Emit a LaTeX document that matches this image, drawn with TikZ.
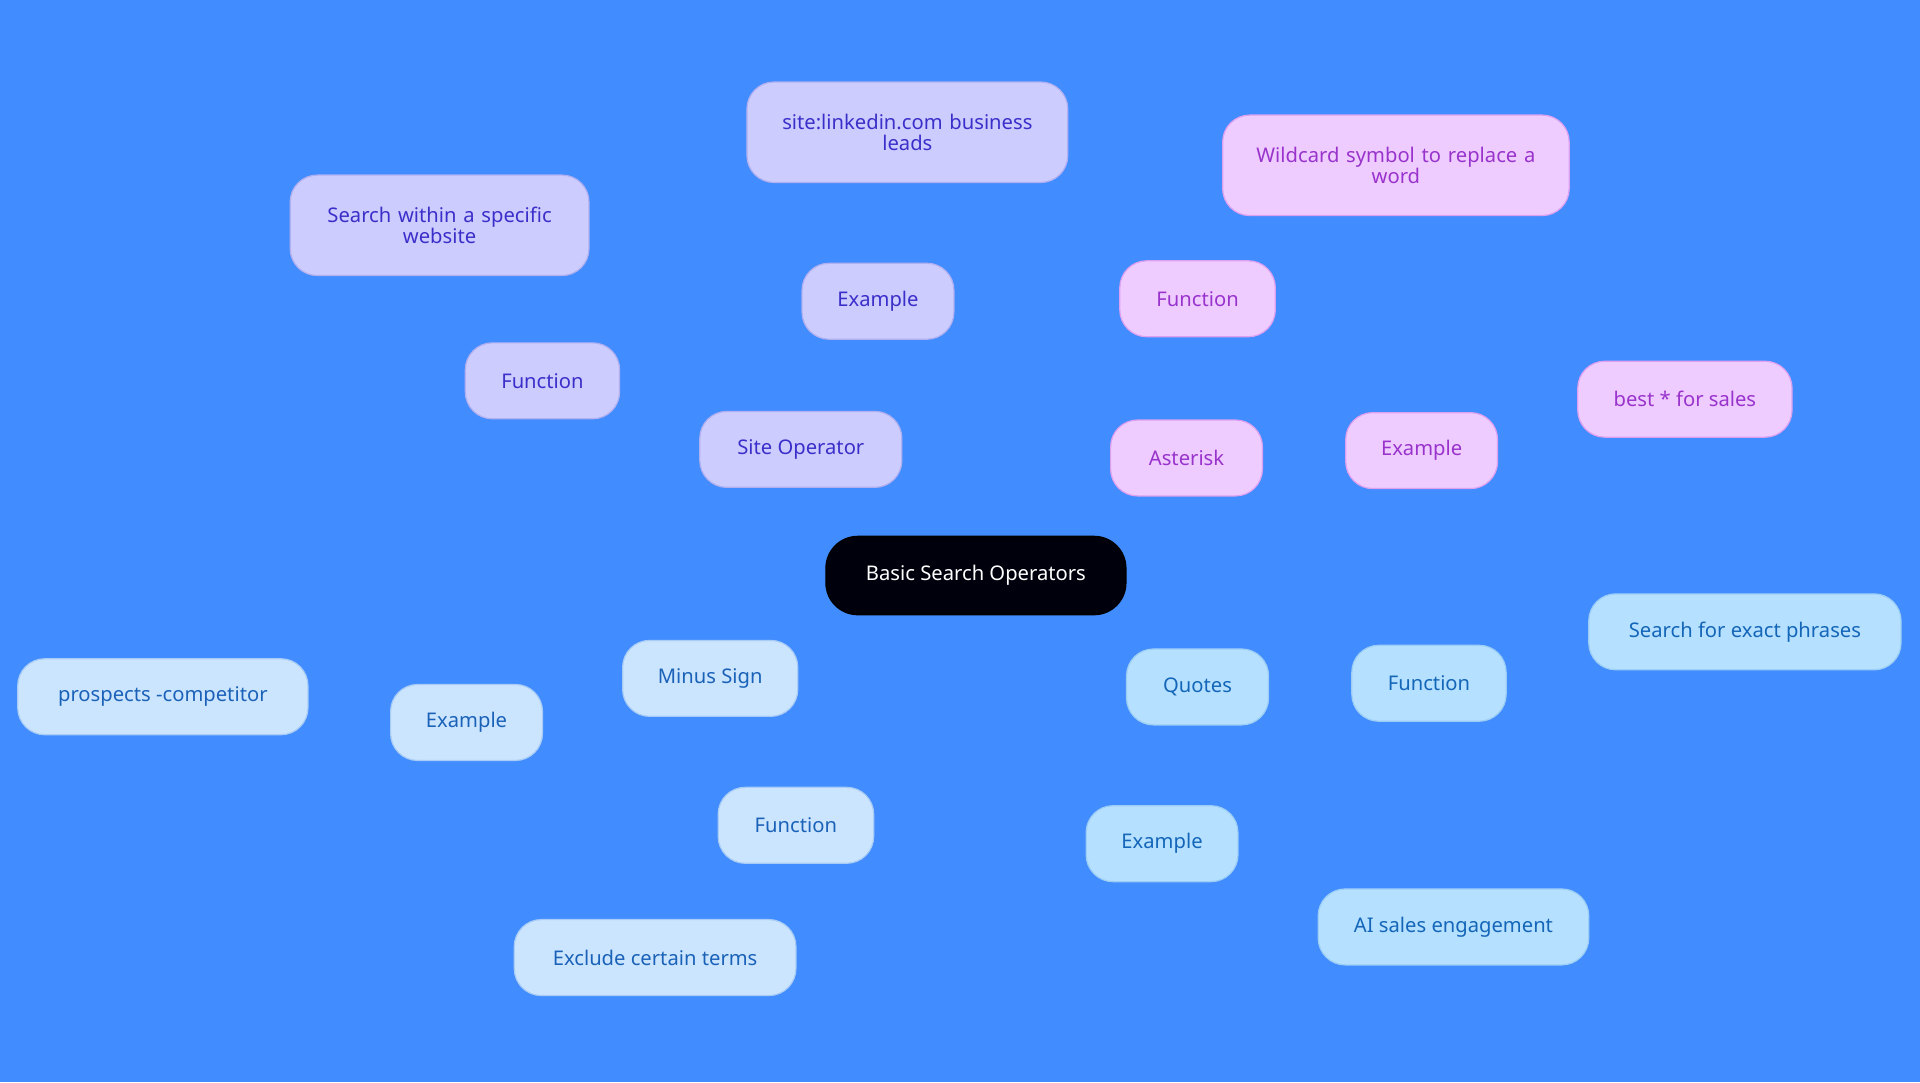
\documentclass[tikz,border=0pt]{standalone}
\usepackage{fontspec}
\setmainfont{Noto Sans}
\usetikzlibrary{backgrounds}
\definecolor{bg}{HTML}{418CFE}
\definecolor{pf}{HTML}{CCCCFF}\definecolor{pt}{HTML}{3B2FC9}\definecolor{pb}{HTML}{B0B0F0}
\definecolor{kf}{HTML}{EECCFF}\definecolor{kt}{HTML}{9933CC}\definecolor{kb}{HTML}{DDA0F0}
\definecolor{qf}{HTML}{B5E0FF}\definecolor{qt}{HTML}{1466B8}\definecolor{qb}{HTML}{9CCEF5}
\definecolor{mf}{HTML}{CCE5FF}\definecolor{mt}{HTML}{1A62B8}\definecolor{mb}{HTML}{A8CCF5}
\begin{document}
\begin{tikzpicture}[x=1pt,y=-1pt,
 n/.style={rounded corners=22pt,draw,line width=1pt,align=center,font=\fontsize{16.5}{19}\selectfont,inner sep=0pt},
 P/.style={n,fill=pf,text=pt,draw=pb},
 K/.style={n,fill=kf,text=kt,draw=kb},
 Q/.style={n,fill=qf,text=qt,draw=qb},
 M/.style={n,fill=mf,text=mt,draw=mb},
 e/.style={line width=1.3pt}]
\fill[bg] (0,0) rectangle (1568,884);
\node[n,fill=black!95!blue,text=white,draw=black,minimum width=245pt,minimum height=64pt,rounded corners=26pt] (r) at (797,470) {Basic Search Operators};
\node[P,minimum width=165pt,minimum height=62pt] (so) at (654,367) {Site Operator};
\node[P,minimum width=126pt,minimum height=62pt] (sf) at (443,311) {Function};
\node[P,minimum width=244pt,minimum height=82pt,text width=220pt] (sfd) at (359,184) {Search within a specific\\[-2pt]website};
\node[P,minimum width=124pt,minimum height=62pt] (se) at (717,246) {Example};
\node[P,minimum width=262pt,minimum height=82pt,text width=240pt] (sed) at (741,108) {site:linkedin.com business\\[-2pt]leads};
\node[K,minimum width=124pt,minimum height=62pt] (as) at (969,374) {Asterisk};
\node[K,minimum width=127pt,minimum height=62pt] (af) at (978,244) {Function};
\node[K,minimum width=283pt,minimum height=82pt,text width=260pt] (afd) at (1140,135) {Wildcard symbol to replace a\\[-2pt]word};
\node[K,minimum width=124pt,minimum height=62pt] (ae) at (1161,368) {Example};
\node[K,minimum width=175pt,minimum height=62pt] (aed) at (1376,326) {best * for sales};
\node[Q,minimum width=116pt,minimum height=62pt] (q) at (978,561) {Quotes};
\node[Q,minimum width=126pt,minimum height=62pt] (qf) at (1167,558) {Function};
\node[Q,minimum width=255pt,minimum height=62pt] (qfd) at (1425,516) {Search for exact phrases};
\node[Q,minimum width=124pt,minimum height=62pt] (qe) at (949,689) {Example};
\node[Q,minimum width=221pt,minimum height=62pt] (qed) at (1187,757) {AI sales engagement};
\node[M,minimum width=143pt,minimum height=62pt] (m) at (580,554) {Minus Sign};
\node[M,minimum width=124pt,minimum height=62pt] (me) at (381,590) {Example};
\node[M,minimum width=237pt,minimum height=62pt] (med) at (133,569) {prospects -competitor};
\node[M,minimum width=127pt,minimum height=62pt] (mf) at (650,674) {Function};
\node[M,minimum width=230pt,minimum height=62pt] (mfd) at (535,782) {Exclude certain terms};
\begin{scope}[on background layer]
\draw[e,pb] (r.center)--(so.center) (so.center)--(sf.center) (sf.center)--(sfd.center) (so.center)--(se.center) (se.center)--(sed.center);
\draw[e,kb] (r.center)--(as.center) (as.center)--(af.center) (af.center)--(afd.center) (as.center)--(ae.center) (ae.center)--(aed.center);
\draw[e,qb] (r.center)--(q.center) (q.center)--(qf.center) (qf.center)--(qfd.center) (q.center)--(qe.center) (qe.center)--(qed.center);
\draw[e,mb] (r.center)--(m.center) (m.center)--(me.center) (me.center)--(med.center) (m.center)--(mf.center) (mf.center)--(mfd.center);
\end{scope}
\end{tikzpicture}
\end{document}
